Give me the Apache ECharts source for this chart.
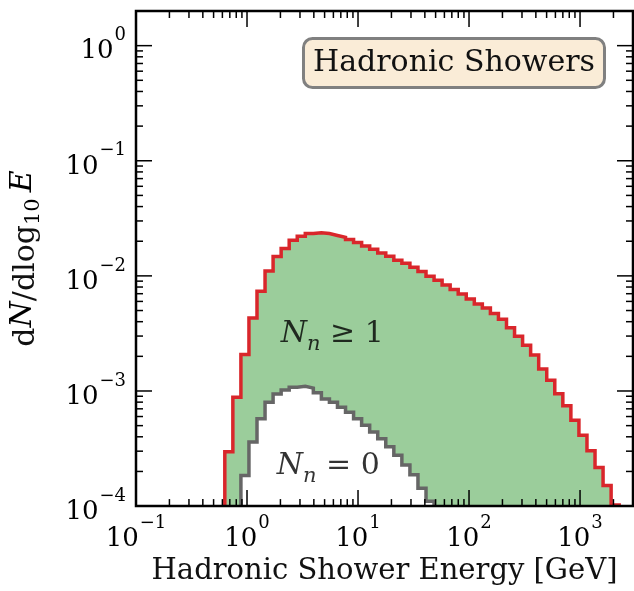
<!DOCTYPE html>
<html>
<head>
<meta charset="utf-8">
<script src="https://cdn.jsdelivr.net/npm/echarts/dist/echarts.min.js"></script>
<style>
html,body{margin:0;padding:0;background:#fff;}
#chart{width:634px;height:591px;}
</style>
</head>
<body>
<div id="chart"></div>
<script>
// ---- histogram binning (log10 of energy in GeV) ----
const LOG_EDGE_START = -0.2;
const LOG_BIN_WIDTH = 0.0725;

// ---- dN/dlog10E per bin, N_n >= 1 (red outline) ----
const redCounts = [
  2.96e-4, 8.82e-4, 2.08e-3, 4.31e-3, 7.35e-3, 1.10e-2, 1.47e-2, 1.73e-2, 2.04e-2, 2.21e-2,
  2.33e-2, 2.37e-2, 2.33e-2, 2.24e-2, 2.16e-2, 2.07e-2, 1.95e-2, 1.82e-2, 1.70e-2, 1.58e-2,
  1.48e-2, 1.37e-2, 1.29e-2, 1.19e-2, 1.09e-2, 9.93e-3, 9.18e-3, 8.35e-3, 7.60e-3, 6.95e-3,
  6.29e-3, 5.70e-3, 5.27e-3, 4.72e-3, 4.19e-3, 3.54e-3, 2.99e-3, 2.50e-3, 2.05e-3, 1.55e-3,
  1.24e-3, 9.46e-4, 7.44e-4, 5.56e-4, 4.13e-4, 3.02e-4, 2.16e-4, 1.51e-4, 1.02e-4
];

// ---- dN/dlog10E per bin, N_n = 0 (grey outline) ----
const greyCounts = [
  0, 0, 1.84e-4, 3.61e-4, 5.74e-4, 8.00e-4, 9.42e-4, 1.02e-3, 1.08e-3, 1.10e-3,
  1.06e-3, 9.64e-4, 8.53e-4, 8.00e-4, 7.22e-4, 6.54e-4, 5.75e-4, 5.04e-4, 4.40e-4, 3.85e-4,
  3.27e-4, 2.77e-4, 2.28e-4, 1.87e-4, 1.43e-4, 1.10e-4, 0, 0, 0, 0,
  0, 0, 0, 0, 0, 0, 0, 0, 0, 0,
  0, 0, 0, 0, 0, 0, 0, 0, 0
];

// ---- axes ----
const X_MIN = 0.1, X_MAX = 3000;
const Y_MIN = 1e-4, Y_MAX = 2;
const xMajorTicks = [0.1, 1, 10, 100, 1000];
const yMajorTicks = [1e-4, 1e-3, 1e-2, 1e-1, 1];
const minorMultipliers = [2, 3, 4, 5, 6, 7, 8, 9];

const binEdges = [];
for (let k = 0; k <= redCounts.length; k++) binEdges.push(Math.pow(10, LOG_EDGE_START + k * LOG_BIN_WIDTH));

function minorTicks(majors, max) {
  const out = [];
  majors.forEach(d => minorMultipliers.forEach(m => { const v = m * d; if (v < max * 0.999) out.push(v); }));
  return out;
}
const xMinorTicks = minorTicks(xMajorTicks, X_MAX);
const yMinorTicks = minorTicks(yMajorTicks, Y_MAX);

function stepPath(counts) {
  let first = -1, last = -1;
  counts.forEach((v, i) => { if (v > 0) { if (first < 0) first = i; last = i; } });
  const pts = [[binEdges[first], Y_MIN]];
  for (let k = first; k <= last; k++) {
    pts.push([binEdges[k], counts[k]]);
    pts.push([binEdges[k + 1], counts[k]]);
  }
  pts.push([binEdges[last + 1], Y_MIN]);
  return pts;
}
const redPath = stepPath(redCounts);
const greyPath = stepPath(greyCounts);

const SERIF = "'DejaVu Serif', serif";
const MINUS = '\u2212';
function expLabel(v) {
  const e = Math.round(Math.log10(v));
  return '{b|10}{s|' + (e < 0 ? MINUS + Math.abs(e) : String(e)) + '}';
}
const tickRich = {
  b: { fontFamily: SERIF, fontSize: 26, color: '#000', lineHeight: 38, verticalAlign: 'bottom' },
  s: { fontFamily: SERIF, fontSize: 18, color: '#000', lineHeight: 18, verticalAlign: 'top', padding: [0, 0, 0, 1] }
};
const mathRich = {
  it: { fontFamily: SERIF, fontStyle: 'italic', fontSize: 30, color: '#000', lineHeight: 36, verticalAlign: 'top' },
  rm: { fontFamily: SERIF, fontSize: 30, color: '#000', lineHeight: 36, verticalAlign: 'top' },
  sub: { fontFamily: SERIF, fontStyle: 'italic', fontSize: 21, color: '#000', lineHeight: 20, verticalAlign: 'bottom' },
  subr: { fontFamily: SERIF, fontSize: 21, color: '#000', lineHeight: 20, verticalAlign: 'bottom' }
};

function tickSeries(values, axis, len) {
  return {
    type: 'custom', coordinateSystem: 'cartesian2d', z: 20, silent: true, clip: false,
    data: values.map(v => axis === 'x' ? [v, Y_MIN] : [X_MIN, v]),
    renderItem: function (params, api) {
      const cs = params.coordSys;
      const p = api.coord([api.value(0), api.value(1)]);
      const style = { stroke: '#000', lineWidth: 1.5 };
      if (axis === 'x') {
        return { type: 'group', children: [
          { type: 'line', shape: { x1: p[0], y1: cs.y + cs.height, x2: p[0], y2: cs.y + cs.height - len }, style: style },
          { type: 'line', shape: { x1: p[0], y1: cs.y, x2: p[0], y2: cs.y + len }, style: style }
        ]};
      }
      return { type: 'group', children: [
        { type: 'line', shape: { x1: cs.x, y1: p[1], x2: cs.x + len, y2: p[1] }, style: style },
        { type: 'line', shape: { x1: cs.x + cs.width, y1: p[1], x2: cs.x + cs.width - len, y2: p[1] }, style: style }
      ]};
    }
  };
}

const frameSeries = {
  type: 'custom', coordinateSystem: 'cartesian2d', z: 21, silent: true, clip: false,
  data: [[X_MIN, Y_MIN]],
  renderItem: function (params, api) {
    const cs = params.coordSys;
    return { type: 'rect', shape: { x: cs.x, y: cs.y, width: cs.width, height: cs.height },
      style: { fill: 'none', stroke: '#000', lineWidth: 2.5 } };
  }
};

const chart = echarts.init(document.getElementById('chart'), null, { renderer: 'canvas' });
chart.setOption({
  animation: false,
  backgroundColor: '#fff',
  grid: { left: 135, right: 1, top: 11, bottom: 81, containLabel: false },
  title: {
    text: 'Hadronic Showers', right: 29, top: 38,
    backgroundColor: '#faecd7', borderColor: '#808080', borderWidth: 3, borderRadius: 9,
    padding: [7, 10, 7, 10],
    textStyle: { fontFamily: SERIF, fontSize: 30, fontWeight: 'normal', color: '#111', lineHeight: 36 }
  },
  xAxis: {
    type: 'log', logBase: 10, min: X_MIN, max: X_MAX,
    axisLine: { show: false }, axisTick: { show: false }, splitLine: { show: false },
    axisLabel: { margin: 8, showMaxLabel: false, formatter: expLabel, rich: tickRich },
    name: 'Hadronic Shower Energy [GeV]', nameLocation: 'middle', nameGap: 50,
    nameTextStyle: { fontFamily: SERIF, fontSize: 29, color: '#111' }
  },
  yAxis: {
    type: 'log', logBase: 10, min: Y_MIN, max: Y_MAX,
    axisLine: { show: false }, axisTick: { show: false }, splitLine: { show: false },
    axisLabel: { margin: 10, showMaxLabel: false, formatter: expLabel, rich: tickRich },
    name: 'd{it|N}/dlog{subr|10}\u2009{it|E}', nameLocation: 'middle', nameGap: 92, nameRotate: 90,
    nameTextStyle: { fontFamily: SERIF, fontSize: 30, color: '#111', rich: mathRich }
  },
  series: [
    {
      type: 'line', data: redPath, showSymbol: false, symbol: 'none', z: 2, silent: true,
      lineStyle: { width: 0, opacity: 0 },
      areaStyle: { color: '#9bcd9b', opacity: 1, origin: 'start' }
    },
    {
      type: 'line', data: greyPath, showSymbol: false, symbol: 'none', z: 3, silent: true,
      lineStyle: { color: '#666666', width: 3.5, join: 'miter' },
      areaStyle: { color: '#ffffff', opacity: 1, origin: 'start' }
    },
    {
      type: 'line', data: redPath, showSymbol: false, symbol: 'none', z: 4, silent: true,
      lineStyle: { color: '#d9262b', width: 3.5, join: 'miter' }
    },
    {
      type: 'scatter', symbolSize: 0, z: 5, silent: true,
      data: [[5.86, Math.pow(10, -2.535)]],
      label: { show: true, position: 'inside', formatter: '{it|N}{sub|n}{rm| \u2265 1}', rich: mathRich }
    },
    {
      type: 'scatter', symbolSize: 0, z: 5, silent: true,
      data: [[5.4, Math.pow(10, -3.68)]],
      label: { show: true, position: 'inside', formatter: '{it|N}{sub|n}{rm| = 0}', rich: mathRich }
    },
    tickSeries(xMajorTicks.slice(1), 'x', 16),
    tickSeries(xMinorTicks, 'x', 7),
    tickSeries(yMajorTicks.slice(1), 'y', 16),
    tickSeries(yMinorTicks, 'y', 7),
    frameSeries
  ]
});
</script>
</body>
</html>
